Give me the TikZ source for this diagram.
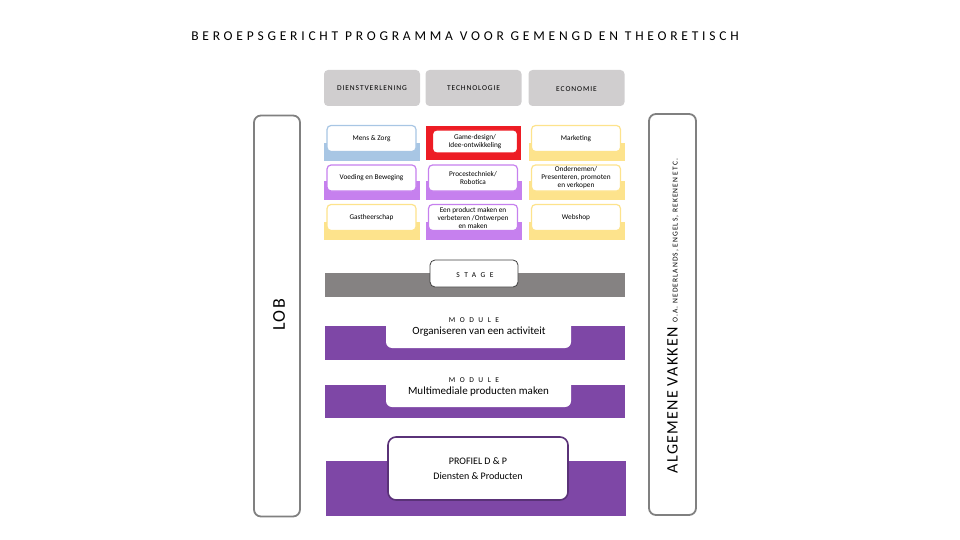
\documentclass[tikz,border=0pt]{standalone}
\usepackage{fontspec}
\setmainfont{Carlito}
\usepackage{tikz}
\usetikzlibrary{positioning,calc}
\usepackage{xcolor}
\definecolor{tabgray}{RGB}{208,206,207}
\definecolor{zorgblue}{RGB}{168,198,228}
\definecolor{gamered}{RGB}{237,28,36}
\definecolor{econyellow}{RGB}{253,227,140}
\definecolor{techlilac}{RGB}{198,128,238}
\definecolor{stagegray}{RGB}{133,130,130}
\definecolor{modpurple}{RGB}{126,71,166}
\definecolor{profpurple}{RGB}{90,50,120}
\definecolor{sidegray}{RGB}{128,128,128}

\begin{document}
\begin{tikzpicture}[
    x=1pt, y=-1pt,
    tab/.style={rectangle, rounded corners=4pt, fill=tabgray, inner sep=0pt,
                minimum width=96pt, minimum height=36pt,
                font=\fontsize{7.5}{9}\selectfont\addfontfeature{LetterSpace=12}},
    cellbg/.style={rectangle, fill=#1, inner sep=0pt,
                   minimum width=96pt, minimum height=18pt},
    cellbox/.style={rectangle, rounded corners=4pt, draw=#1, fill=white,
                    line width=1.2pt, inner sep=1pt, minimum width=89pt,
                    minimum height=26pt, align=center,
                    font=\fontsize{7.3}{8}\selectfont},
    bar/.style={rectangle, fill=#1, inner sep=0pt, minimum width=300pt},
    modbox/.style={rectangle, rounded corners=6pt, fill=white, inner sep=0pt,
                   minimum width=185pt, minimum height=42pt},
    tag/.style={font=\fontsize{7.5}{9}\selectfont\addfontfeature{LetterSpace=60}},
    sidebox/.style={rectangle, rounded corners=7pt, draw=sidegray,
                    line width=1.8pt, inner sep=0pt, minimum width=46pt,
                    minimum height=401pt}
]
\useasboundingbox (0,0) rectangle (960,540);

\node[font=\fontsize{13.5}{15}\selectfont\addfontfeature{LetterSpace=28}] (title)
    at (465,36) {BEROEPSGERICHT PROGRAMMA VOOR GEMENGD EN THEORETISCH};

% kolomkoppen
\node[tab] (dienst) at (372,88) {DIENSTVERLENING};
\node[tab] (techno) at (473.5,88) {TECHNOLOGIE};
\node[tab] (econ) at (576.5,88) {};
\node[font=\fontsize{7.5}{9}\selectfont\addfontfeature{LetterSpace=12}] (econText)
    at (576.5,89.5) {ECONOMIE};

% rij 1
\node[cellbg=zorgblue] (mensBg) at (372,152.5) {};
\node[cellbox=zorgblue] (mens) at (371.5,138.5) {Mens \& Zorg};
\node[cellbg=gamered, minimum height=34pt, minimum width=95pt] (gameBg) at (473.5,143) {};
\node[cellbox=gamered, minimum width=85pt, minimum height=23pt] (game) at (475,141.5)
    {Game-design/\\Idee-ontwikkeling};
\node[cellbg=econyellow] (marketBg) at (576.5,152.5) {};
\node[cellbox=econyellow] (market) at (576,138.5) {Marketing};

% rij 2
\node[cellbg=techlilac] (voedingBg) at (372,190.5) {};
\node[cellbox=techlilac] (voeding) at (371.5,178) {Voeding en Beweging};
\node[cellbg=techlilac] (procesBg) at (473.5,190.5) {};
\node[cellbox=techlilac] (proces) at (473,178) {Procestechniek/\\Robotica};
\node[cellbg=econyellow] (ondernBg) at (576.5,190.5) {};
\node[cellbox=econyellow] (ondern) at (576,178)
    {Ondernemen/\\Presenteren, promoten\\en verkopen};

% rij 3
\node[cellbg=econyellow] (gastBg) at (372,231) {};
\node[cellbox=econyellow] (gast) at (371.5,217.5) {Gastheerschap};
\node[cellbg=techlilac] (productBg) at (473.5,231) {};
\node[cellbox=techlilac] (product) at (473,217.5)
    {Een product maken en\\verbeteren /Ontwerpen\\en maken};
\node[cellbg=econyellow] (webBg) at (576.5,231) {};
\node[cellbox=econyellow] (web) at (576,217.5) {Webshop};

% stage
\node[bar=stagegray, minimum height=24pt] (stageBar) at (474.5,285) {};
\node[rectangle, rounded corners=5pt, draw=black!75, fill=white, line width=0.8pt,
      minimum width=88pt, minimum height=27pt] (stage) at (474,273.5) {};
\node[tag] (stageTag) at (475,275.5) {STAGE};

% modules
\node[bar=modpurple, minimum height=34pt] (mod1Bar) at (475,343) {};
\node[modbox] (mod1) at (478.5,327) {};
\node[tag] (mod1Tag) at (474,320) {MODULE};
\node[font=\fontsize{11}{13}\selectfont] (mod1Title) at (479,332)
    {Organiseren van een activiteit};

\node[bar=modpurple, minimum height=33pt] (mod2Bar) at (475,401.5) {};
\node[modbox] (mod2) at (478.5,386) {};
\node[tag] (mod2Tag) at (474,380) {MODULE};
\node[font=\fontsize{11}{13}\selectfont] (mod2Title) at (478.5,392)
    {Multimediale producten maken};

% profiel
\node[bar=modpurple, minimum height=55pt] (profBar) at (476,488.5) {};
\node[rectangle, rounded corners=8pt, draw=profpurple, fill=white, line width=1.6pt,
      minimum width=180pt, minimum height=63pt, align=center,
      font=\fontsize{10}{15}\selectfont] (profiel) at (478,468.5)
    {PROFIEL D \& P\\Diensten \& Producten};

% zijkanten
\node[sidebox] (lob) at (277,316) {};
\node[rotate=90, font=\fontsize{18}{20}\selectfont\addfontfeature{LetterSpace=8}]
    (lobText) at (279,315) {LOB};
\node[sidebox, minimum width=47pt] (algemeen) at (672.5,314.5) {};
\node[rotate=90, inner sep=0pt] (algText) at (673,316)
    {\fontsize{16}{18}\selectfont\addfontfeature{LetterSpace=8}ALGEMENE VAKKEN
     \fontsize{7.5}{8}\selectfont\addfontfeature{LetterSpace=14}O.A. NEDERLANDS, ENGELS, REKENEN ETC.};

\end{tikzpicture}
\end{document}
